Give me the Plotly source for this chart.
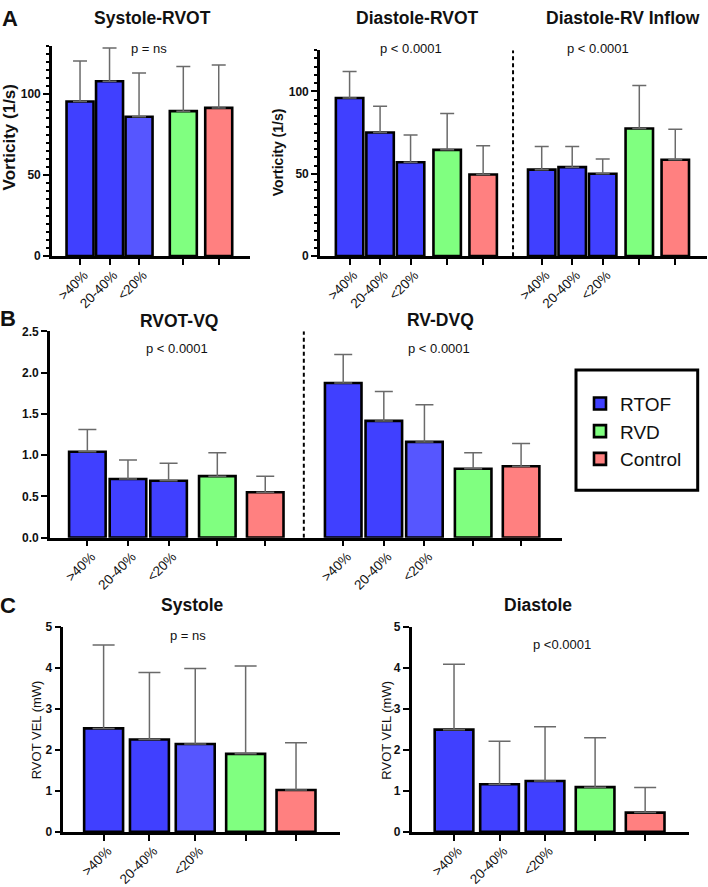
import plotly.graph_objects as go

W, H = 708, 887

# ---------------- data ----------------
TICK_TEXT = [">40%", "20-40%", "<20%", "", ""]
SERIES = ["RTOF", "RVD", "Control"]

sys_rvot_mean = [95.5, 108, 86, 89.5, 91.5]
sys_rvot_sd = [25, 20.5, 27, 27.5, 26.5]

dia_rvot_mean = [96, 75, 57, 64.5, 49.5]
dia_rvot_sd = [16, 16, 16.5, 22, 17.5]

dia_inflow_mean = [52.5, 54, 50, 77.5, 58.5]
dia_inflow_sd = [14, 12.5, 9, 26, 18.5]

rvot_vq_mean = [1.04, 0.71, 0.69, 0.745, 0.55]
rvot_vq_sd = [0.27, 0.23, 0.21, 0.285, 0.195]

rv_dvq_mean = [1.875, 1.415, 1.16, 0.835, 0.865]
rv_dvq_sd = [0.345, 0.355, 0.45, 0.195, 0.275]

sys_vel_mean = [2.52, 2.25, 2.14, 1.90, 1.02]
sys_vel_sd = [2.03, 1.63, 1.84, 2.14, 1.15]

dia_vel_mean = [2.49, 1.16, 1.24, 1.09, 0.47]
dia_vel_sd = [1.59, 1.05, 1.32, 1.20, 0.61]

# ---------------- styles ----------------
BLUE = "#4040FF"
BLUE_L = "#5656FF"
GREEN = "#80FF80"
RED = "#FF8080"
FONT = "Liberation Sans"


def px_x(p):
    return p / W


def px_y(p):
    return 1 - p / H


fig = go.Figure()
legend_done = {"v": False}


def add_group(means, sds, xpos, ax, light3, width, capw):
    xa = "x" if ax == 1 else f"x{ax}"
    ya = "y" if ax == 1 else f"y{ax}"
    blues = [BLUE, BLUE, BLUE_L if light3 else BLUE]
    parts = [
        ("RTOF", xpos[0:3], means[0:3], sds[0:3], blues),
        ("RVD", xpos[3:4], means[3:4], sds[3:4], [GREEN]),
        ("Control", xpos[4:5], means[4:5], sds[4:5], [RED]),
    ]
    show = not legend_done["v"]
    for name, xs, ys, es, cols in parts:
        fig.add_trace(go.Bar(
            x=xs, y=ys, name=name, legendgroup=name, showlegend=show,
            width=width, xaxis=xa, yaxis=ya,
            marker=dict(color=cols, line=dict(color="black", width=2.6)),
            error_y=dict(type="data", array=es, arrayminus=[0] * len(es),
                         symmetric=False, color="#6a6a6a", thickness=1.5,
                         width=capw),
        ))
    legend_done["v"] = True


POS_A1 = [0, 1, 2, 3.5, 4.7]
POS_G = [0, 1, 2, 3.2, 4.38]
POS_G2 = [p + 6.3 for p in POS_G]
POS_C = [0, 1, 2, 3.1, 4.2]

add_group(sys_rvot_mean, sys_rvot_sd, POS_A1, 1, True, 0.915, 7)
add_group(dia_rvot_mean, dia_rvot_sd, POS_G, 2, False, 0.9, 7)
add_group(dia_inflow_mean, dia_inflow_sd, POS_G2, 2, False, 0.9, 7)
add_group(rvot_vq_mean, rvot_vq_sd, POS_G, 3, False, 0.9, 9)
add_group(rv_dvq_mean, rv_dvq_sd, POS_G2, 3, True, 0.9, 9)
add_group(sys_vel_mean, sys_vel_sd, POS_C, 4, True, 0.85, 11)
add_group(dia_vel_mean, dia_vel_sd, POS_C, 5, False, 0.85, 11)


def xaxis(domain, rng, tickvals):
    return dict(domain=domain, range=rng, tickvals=tickvals,
                ticktext=TICK_TEXT * (len(tickvals) // 5), tickangle=-45,
                showline=True, linecolor="black", linewidth=2.6,
                ticks="outside", ticklen=6, tickwidth=2, tickcolor="black",
                showgrid=False, zeroline=False,
                ticklabelshift=4, ticklabelstandoff=-3,
                tickfont=dict(family=FONT, size=13.5, color="#111"))


def yaxis(domain, rng, dtick, anchor, minor=None, fmt=None):
    d = dict(domain=domain, range=rng, dtick=dtick, anchor=anchor,
             showline=True, linecolor="black", linewidth=2.6,
             ticks="outside", ticklen=6, tickwidth=2, tickcolor="black",
             showgrid=False, zeroline=False,
             tickfont=dict(family=FONT, size=12, color="#111", weight="bold"))
    if minor:
        d["minor"] = dict(dtick=minor, ticks="outside", ticklen=3,
                          tickwidth=1.5, tickcolor="black", showgrid=False)
    if fmt:
        d["tickformat"] = fmt
    return d


yA = [px_y(254), px_y(39.3)]
yA2 = [px_y(254), px_y(44)]
yB = [px_y(541), px_y(330.7)]
yC = [px_y(841), px_y(631.7)]

fig.update_layout(
    width=W, height=H, autosize=False, margin=dict(l=0, r=0, t=0, b=0),
    paper_bgcolor="white", plot_bgcolor="white",
    barmode="overlay",
    font=dict(family=FONT, color="#111"),
    xaxis=xaxis([px_x(52), px_x(250)], [-0.95, 5.76], POS_A1),
    yaxis=yaxis(yA, [0, 130], 50, "x", minor=5),
    xaxis2=dict(xaxis([px_x(320), px_x(707)], [-0.97, 11.72], POS_G + POS_G2), anchor="y2"),
    yaxis2=yaxis(yA2, [0, 125], 50, "x2", minor=5),
    xaxis3=dict(xaxis([px_x(50), px_x(561.7)], [-0.92, 11.68], POS_G + POS_G2), anchor="y3"),
    yaxis3=yaxis(yB, [0, 2.5], 0.5, "x3", fmt=".1f"),
    xaxis4=dict(xaxis([px_x(63.3), px_x(340)], [-0.88, 5.16], POS_C), anchor="y4"),
    yaxis4=yaxis(yC, [0, 5], 1, "x4"),
    xaxis5=dict(xaxis([px_x(411.7), px_x(689.3)], [-0.93, 5.17], POS_C), anchor="y5"),
    yaxis5=yaxis(yC, [0, 5], 1, "x5"),
    showlegend=True,
    legend=dict(x=px_x(580), y=px_y(385), xanchor="left", yanchor="top",
                bgcolor="rgba(0,0,0,0)", borderwidth=0,
                font=dict(family=FONT, size=19, color="#111"),
                tracegroupgap=0, traceorder="normal"),
)

# dashed separators
fig.add_shape(type="line", xref="x2", yref="y2", x0=5.36, x1=5.36, y0=0, y1=125,
              line=dict(color="black", width=2, dash="4px,3px"))
fig.add_shape(type="line", xref="x3", yref="y3", x0=5.33, x1=5.33, y0=0, y1=2.5,
              line=dict(color="black", width=2, dash="4px,3px"))
# legend box
fig.add_shape(type="rect", xref="paper", yref="paper",
              x0=px_x(576), x1=px_x(697.7), y0=px_y(492.7), y1=px_y(370),
              line=dict(color="black", width=3))


def note(text, x, y, size, bold=False, angle=0):
    fig.add_annotation(text=f"<b>{text}</b>" if bold else text,
                       x=px_x(x), y=px_y(y), xref="paper", yref="paper",
                       xanchor="center", yanchor="middle", showarrow=False,
                       textangle=angle,
                       font=dict(family=FONT, size=size, color="#111"))


# panel letters
note("A", 9.5, 12, 22, bold=True)
note("B", 8, 318, 22, bold=True)
note("C", 8, 610.5, 22, bold=True)

# titles
note("Systole-RVOT", 152.5, 11, 17.5, bold=True)
note("Diastole-RVOT", 417.5, 11, 17.5, bold=True)
note("Diastole-RV Inflow", 622.5, 11, 17.5, bold=True)
note("RVOT-VQ", 179, 320.5, 17.5, bold=True)
note("RV-DVQ", 440, 319.5, 17.5, bold=True)
note("Systole", 192.5, 609.5, 17.5, bold=True)
note("Diastole", 538, 609.5, 17.5, bold=True)

# p values
note("p = ns", 149, 42.7, 13)
note("p &lt; 0.0001", 410.5, 42, 13)
note("p &lt; 0.0001", 598, 42, 13)
note("p &lt; 0.0001", 177, 348.3, 13)
note("p &lt; 0.0001", 438.5, 347.7, 13)
note("p = ns", 187.5, 641, 13)
note("p &lt;0.0001", 561.7, 650, 13)

# y titles
note("Vorticity (1/s)", 9, 133, 17, bold=True, angle=-90)
note("Vorticity (1/s)", 278.8, 148.3, 14, bold=True, angle=-90)
note("RVOT VEL (mW)", 36.7, 736.7, 13, angle=-90)
note("RVOT VEL (mW)", 386.3, 737.5, 13, angle=-90)

fig.write_html(
    "out.html",
    config={"displayModeBar": False, "responsive": False},
    post_script="document.body.style.margin='0';document.body.style.overflow='hidden';",
)
